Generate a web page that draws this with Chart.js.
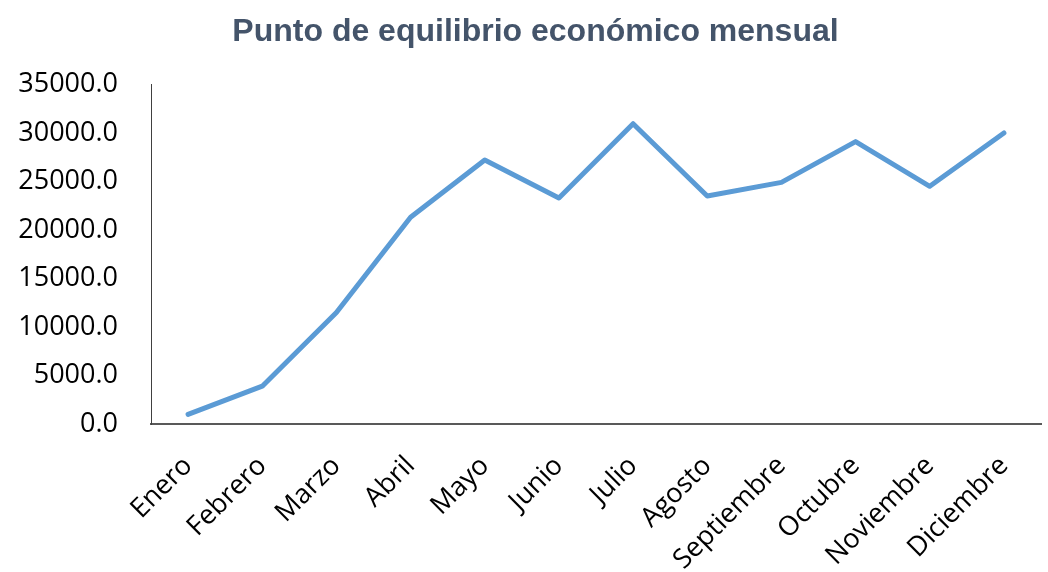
<!DOCTYPE html>
<html>
<head>
<meta charset="utf-8">
<script src="https://cdn.jsdelivr.net/npm/chart.js@4/dist/chart.umd.min.js"></script>
<style>
  html, body { margin: 0; padding: 0; background: #fff; }
  #wrap { width: 1048px; height: 572px; }
</style>
</head>
<body>
<div id="wrap"><canvas id="chart-equilibrio" width="1048" height="572"></canvas></div>
<script>
// datos
var meses = ['Enero', 'Febrero', 'Marzo', 'Abril', 'Mayo', 'Junio', 'Julio', 'Agosto', 'Septiembre', 'Octubre', 'Noviembre', 'Diciembre'];
var puntoEquilibrio = [1000, 3900, 11500, 21300, 27200, 23300, 30950, 23500, 24900, 29100, 24500, 30000];
var yMin = 0;
var yMax = 35000;
var yPaso = 5000;

(function () {
  'use strict';

  // el título del original está un poco a la derecha del centro
  var moverTitulo = {
    id: 'moverTitulo',
    afterLayout: function (chart) {
      if (chart.titleBlock) chart.titleBlock.left += 14;
    }
  };

  var ctx = document.getElementById('chart-equilibrio');
  new Chart(ctx.getContext('2d'), {
    type: 'line',
    data: {
      labels: meses,
      datasets: [{
        label: 'Punto de equilibrio',
        data: puntoEquilibrio,
        borderColor: '#5B9BD5',
        backgroundColor: '#5B9BD5',
        borderWidth: 5,
        borderCapStyle: 'round',
        borderJoinStyle: 'round',
        pointRadius: 0,
        tension: 0,
        fill: false
      }]
    },
    plugins: [moverTitulo],
    options: {
      responsive: false,
      animation: false,
      devicePixelRatio: 1,
      layout: { padding: { left: 16, right: 7, top: 0, bottom: 0 } },
      plugins: {
        legend: { display: false },
        tooltip: { enabled: false },
        title: {
          display: true,
          text: 'Punto de equilibrio económico mensual',
          color: '#44546A',
          font: { family: '"Liberation Sans", Arial, sans-serif', size: 32, weight: 'bold' },
          padding: { top: 13, bottom: 33 }
        }
      },
      scales: {
        x: {
          offset: true,
          grid: { display: false, drawTicks: false },
          border: { display: true, color: '#595959', width: 2 },
          ticks: {
            color: '#000',
            font: { family: '"Open Sans", sans-serif', size: 27 },
            minRotation: 45,
            maxRotation: 45,
            padding: 26,
            autoSkip: false
          },
          afterFit: function (scale) {
            scale.height = 148;
            scale.paddingLeft = 0;
            scale.paddingRight = 0;
          }
        },
        y: {
          min: yMin,
          max: yMax,
          grid: { display: false, drawTicks: false },
          border: { display: true, color: '#404040', width: 1 },
          ticks: {
            stepSize: yPaso,
            color: '#000',
            font: { family: '"Open Sans", sans-serif', size: 27 },
            padding: 33,
            callback: function (v) { return Number(v).toFixed(1); }
          },
          afterFit: function (scale) { scale.width = 135; }
        }
      }
    }
  });
})();
</script>
</body>
</html>
